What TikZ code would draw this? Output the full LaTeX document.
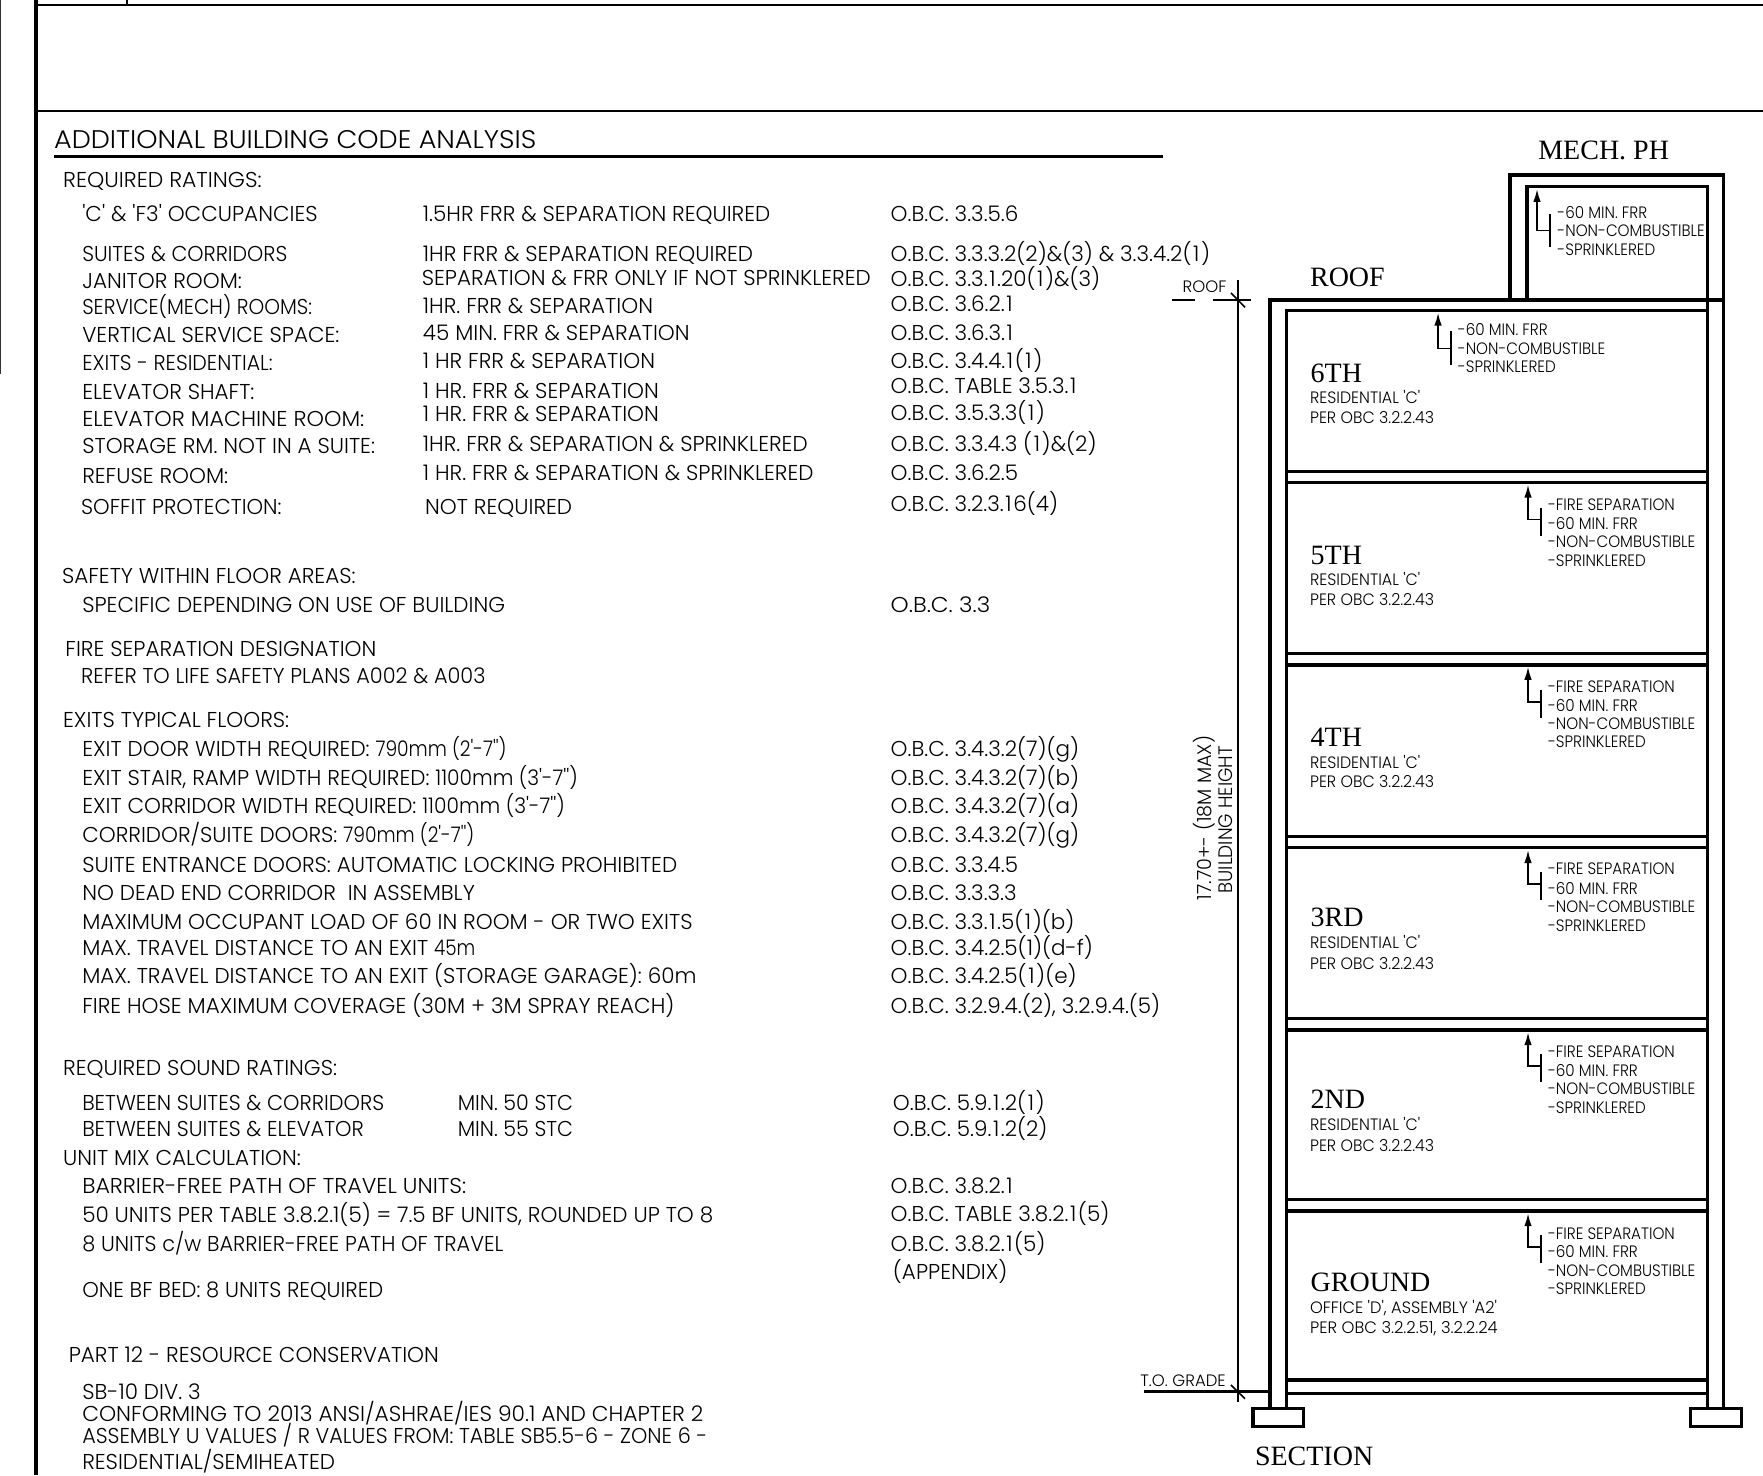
\documentclass[tikz,border=0pt]{standalone}
\usepackage{fontspec}
\usetikzlibrary{arrows.meta}
\newfontfamily\gothicA{Poppins Light}[FakeStretch=1.0]
\newfontfamily\gothicB{Poppins Light}[FakeStretch=0.92]
\newfontfamily\gothicC{Poppins Light}[FakeStretch=0.96]
\newfontfamily\gothicT{Poppins Light}[FakeStretch=1.06]
\newfontfamily\timesf{Liberation Serif}
\newcount\tcount
\newcommand{\TT}[4]{\global\advance\tcount by 1 \node[#1] (t\the\tcount) at (#2,#3) {#4};}
\newcommand{\MM}[3]{\TT{main}{#1}{#2}{#3}}
\newcommand{\SM}[3]{\TT{small}{#1}{#2}{#3}}
\newcommand{\FL}[3]{\TT{floorsub}{#1}{#2}{#3}}
\newcommand{\HD}[3]{\TT{head}{#1}{#2}{#3}}
\newcommand{\SX}[2]{\scalebox{#1}[1]{#2}}
\newcommand{\1}{\kern1.6pt\relax 1\kern1.6pt\relax}
\newcommand{\Leader}[5]{% tipx, tipy, kneeY, barTop, barBot
  \draw[leader,-{Latex[length=13pt,width=7.5pt]}] (#1+11.5,#3) -- (#1,#3) -- (#1,#2);
  \draw[leader] (#1+11.5,#4) -- (#1+11.5,#5);}
\tikzset{
 main/.style={anchor=west,inner sep=0,font=\gothicA\fontsize{21.5}{24}\selectfont,text height=15pt,text depth=0pt},
 small/.style={anchor=west,inner sep=0,font=\gothicB\fontsize{16.5}{18}\selectfont,text height=11.6pt,text depth=0pt},
 floorsub/.style={anchor=west,inner sep=0,font=\gothicC\fontsize{16.5}{18}\selectfont,text height=11.6pt,text depth=0pt},
 dimtext/.style={anchor=west,inner sep=0,font=\gothicA\fontsize{16.5}{18}\selectfont,text height=11.6pt,text depth=0pt},
 rotdim/.style={anchor=center,rotate=90,inner sep=0,font=\gothicB\fontsize{19.5}{22}\selectfont,text height=14pt,text depth=0pt},
 head/.style={anchor=west,inner sep=0,font=\timesf\fontsize{28}{30}\selectfont,text height=18.5pt,text depth=0pt},
 title/.style={anchor=west,inner sep=0,font=\gothicT\fontsize{25.5}{28}\selectfont,text height=18pt,text depth=0pt},
 wall/.style={line width=3.3pt,line cap=rect,line join=miter},
 thinwall/.style={line width=3pt,line cap=rect},
 leader/.style={line width=1.8pt},
 dim/.style={line width=1.5pt},
 frame/.style={line width=2.2pt},
}
\begin{document}
\begin{tikzpicture}[x=1.12436pt,y=-1.12436pt]
\useasboundingbox (0,0) rectangle (1568,1312);
% sheet frame
\draw[line width=4pt] (32,0) -- (32,1312);
\draw[line width=2pt,black!80] (0,0) -- (0,333);
\draw[frame] (32,4.5) -- (1568,4.5);
\draw[line width=1.5pt] (113,0) -- (113,4.5);
\draw[line width=1.8pt] (32,99) -- (1568,99);
% title
\TT{title}{48}{124}{ADDITIONAL BUILDING CODE ANALYSIS}
\draw[line width=3pt] (48,139) -- (1034,139);
% ratings
\MM{56}{160}{\SX{1.02}{REQUIRED RATINGS:}}
\MM{73}{190}{'C' \& 'F3' OCCUPANCIES}
\MM{376}{190}{1.5HR FRR \& SEPARATION REQUIRED}
\MM{792}{190}{O.B.C. 3.3.5.6}
\MM{73}{226}{\SX{.96}{SUITES \& CORRIDORS}}
\MM{376}{226}{1HR FRR \& SEPARATION REQUIRED}
\MM{792}{226}{O.B.C. 3.3.3.2(2)\&(3) \& 3.3.4.2(\1)}
\MM{73}{250}{JANITOR ROOM:}
\MM{375}{247}{SEPARATION \& FRR ONLY IF NOT SPRINKLERED}
\MM{792}{248}{O.B.C. 3.3.\1.20(\1)\&(3)}
\MM{73}{273}{\SX{.93}{SERVICE(MECH) ROOMS:}}
\MM{376}{272}{1HR. FRR \& SEPARATION}
\MM{792}{270}{O.B.C. 3.6.2.\1}
\MM{73}{298}{VERTICAL SERVICE SPACE:}
\MM{376}{296}{45 MIN. FRR \& SEPARATION}
\MM{792}{296}{O.B.C. 3.6.3.\1}
\MM{73}{323}{\SX{.955}{EXITS - RESIDENTIAL:}}
\MM{376}{321}{1 HR FRR \& SEPARATION}
\MM{792}{321}{O.B.C. 3.4.4.\1(\1)}
\MM{73}{349}{ELEVATOR SHAFT:}
\MM{376}{348}{1 HR. FRR \& SEPARATION}
\MM{792}{343}{O.B.C. TABLE 3.5.3.\1}
\MM{73}{373}{\SX{1.03}{ELEVATOR MACHINE ROOM:}}
\MM{376}{368}{1 HR. FRR \& SEPARATION}
\MM{792}{367}{O.B.C. 3.5.3.3(\1)}
\MM{73}{397}{STORAGE RM. NOT IN A SUITE:}
\MM{376}{395}{1HR. FRR \& SEPARATION \& SPRINKLERED}
\MM{792}{395}{O.B.C. 3.3.4.3 (\1)\&(2)}
\MM{73}{423}{REFUSE ROOM:}
\MM{376}{421}{1 HR. FRR \& SEPARATION \& SPRINKLERED}
\MM{792}{421}{O.B.C. 3.6.2.5}
\MM{72}{451}{\SX{.98}{SOFFIT PROTECTION:}}
\MM{378}{451}{NOT REQUIRED}
\MM{792}{448}{O.B.C. 3.2.3.\1{}6(4)}
% safety
\MM{55}{512}{SAFETY WITHIN FLOOR AREAS:}
\MM{73}{538}{SPECIFIC DEPENDING ON USE OF BUILDING}
\MM{792}{538}{\SX{1.07}{O.B.C. 3.3}}
\MM{58}{577}{FIRE SEPARATION DESIGNATION}
\MM{72}{601}{\SX{.97}{REFER TO LIFE SAFETY PLANS A002 \& A003}}
% exits
\MM{56}{640}{EXITS TYPICAL FLOORS:}
\MM{73}{666}{EXIT DOOR WIDTH REQUIRED: \SX{.87}{790mm (2'-7'')}}
\MM{792}{666}{O.B.C. 3.4.3.2(7)(g)}
\MM{73}{692}{EXIT STAIR, RAMP WIDTH REQUIRED: \SX{.94}{1100mm (3'-7'')}}
\MM{792}{692}{O.B.C. 3.4.3.2(7)(b)}
\MM{73}{717}{EXIT CORRIDOR WIDTH REQUIRED: \SX{.94}{1100mm (3'-7'')}}
\MM{792}{717}{O.B.C. 3.4.3.2(7)(a)}
\MM{73}{743}{CORRIDOR/SUITE DOORS: \SX{.87}{790mm (2'-7'')}}
\MM{792}{743}{O.B.C. 3.4.3.2(7)(g)}
\MM{73}{769}{SUITE ENTRANCE DOORS: AUTOMATIC LOCKING PROHIBITED}
\MM{792}{769}{O.B.C. 3.3.4.5}
\MM{73}{794}{NO DEAD END CORRIDOR\ \ IN ASSEMBLY}
\MM{792}{794}{O.B.C. 3.3.3.3}
\MM{73}{820}{MAXIMUM OCCUPANT LOAD OF 60 IN ROOM - OR TWO EXITS}
\MM{792}{820}{O.B.C. 3.3.\1.5(\1)(b)}
\MM{73}{843}{MAX. TRAVEL DISTANCE TO AN EXIT \SX{.85}{45m}}
\MM{792}{843}{O.B.C. 3.4.2.5(1)(d-f)}
\MM{73}{868}{MAX. TRAVEL DISTANCE TO AN EXIT (STORAGE GARAGE): 60m}
\MM{792}{868}{O.B.C. 3.4.2.5(\1)(e)}
\MM{73}{895}{FIRE HOSE MAXIMUM COVERAGE (30M + 3M SPRAY REACH)}
\MM{792}{895}{O.B.C. 3.2.9.4.(2), 3.2.9.4.(5)}
% sound
\MM{56}{950}{REQUIRED SOUND RATINGS:}
\MM{73}{981}{\SX{.97}{BETWEEN SUITES \& CORRIDORS}}
\MM{407}{981}{\SX{.96}{MIN. 50 STC}}
\MM{794}{981}{O.B.C. 5.9.\1.2(\1)}
\MM{73}{1004}{\SX{.97}{BETWEEN SUITES \& ELEVATOR}}
\MM{407}{1004}{\SX{.96}{MIN. 55 STC}}
\MM{794}{1004}{O.B.C. 5.9.\1.2(2)}
\MM{56}{1030}{UNIT MIX CALCULATION:}
\MM{73}{1055}{\SX{1.03}{BARRIER-FREE PATH OF TRAVEL UNITS:}}
\MM{792}{1055}{O.B.C. 3.8.2.\1}
\MM{73}{1081}{50 UNITS PER TABLE 3.8.2.1(5) = 7.5 BF UNITS, ROUNDED UP TO 8}
\MM{792}{1080}{O.B.C. TABLE 3.8.2.\1(5)}
\MM{73}{1106}{\SX{.97}{8 UNITS c/w BARRIER-FREE PATH OF TRAVEL}}
\MM{792}{1106}{O.B.C. 3.8.2.\1(5)}
\MM{794}{1131}{(APPENDIX)}
\MM{73}{1147}{\SX{.98}{ONE BF BED: 8 UNITS REQUIRED}}
\MM{61}{1205}{PART 12 - RESOURCE CONSERVATION}
\MM{73}{1238}{SB-10 DIV. 3}
\MM{73}{1258}{\SX{1.013}{CONFORMING TO 2013 ANSI/ASHRAE/IES 90.1 AND CHAPTER 2}}
\MM{73}{1277}{\SX{.965}{ASSEMBLY U VALUES / R VALUES FROM: TABLE SB5.5-6 - ZONE 6 -}}
\MM{73}{1300.5}{RESIDENTIAL/SEMIHEATED}
% section: walls
\draw[wall] (1343,266.8) -- (1343,155.6) -- (1533,155.6) -- (1533,266.8);
\draw[wall] (1358,266.8) -- (1358,166) -- (1518.8,166) -- (1518.8,276.3);
\draw[wall] (1129.6,1252.6) -- (1129.6,266.8) -- (1533,266.8) -- (1533,1252.6);
\draw[wall] (1144,1252.6) -- (1144,276.3) -- (1518.8,276.3) -- (1518.8,1252.6);
\draw[line width=4pt] (1129.6,1252.6) -- (1129.6,266.8);
\foreach \ya/\yb in {419.5/429.3,581.5/591.5,744/754,906/916,1067/1077}{
  \draw[wall] (1144,\ya) -- (1518.8,\ya);
  \draw[wall] (1144,\yb) -- (1518.8,\yb);
}
\draw[wall] (1144,1227.4) -- (1518.8,1227.4);
\draw[thinwall] (1144,1239) -- (1518.8,1239);
\draw[wall] (1114.5,1252.6) rectangle (1159.4,1268.9);
\draw[wall] (1503.4,1252.6) rectangle (1549,1268.9);
% grade and dimension
\draw[thinwall] (1018.6,1238) -- (1129.6,1238);
\draw[dim] (1100.9,249) -- (1100.9,1247);
\draw[dim] (1094.8,260.5) -- (1107.3,273.3);
\draw[dim] (1094.8,1231.8) -- (1107.3,1244);
\draw[dim] (1042.7,266.8) -- (1062.4,266.8);
\draw[dim] (1078.6,266.8) -- (1112.7,266.8);
\TT{dimtext}{1051.7}{255}{ROOF}
\TT{dimtext}{1014}{1228}{T.O. GRADE}
\TT{rotdim}{1071}{727.5}{\SX{1.07}{17.70+- (18M MAX)}}
\TT{rotdim}{1090}{729}{\SX{1.03}{BUILDING HEIGHT}}
% labels
\HD{1368}{134}{MECH. PH}
\HD{1165}{247}{ROOF}
\HD{1165.5}{332}{6TH}
\FL{1165}{354}{RESIDENTIAL 'C'}
\FL{1165}{371.5}{PER OBC 3.2.2.43}
\HD{1165.5}{494}{5TH}
\FL{1165}{516}{RESIDENTIAL 'C'}
\FL{1165}{533}{PER OBC 3.2.2.43}
\HD{1165.5}{656}{4TH}
\FL{1165}{678}{RESIDENTIAL 'C'}
\FL{1165}{695}{PER OBC 3.2.2.43}
\HD{1165.5}{816}{3RD}
\FL{1165}{838}{RESIDENTIAL 'C'}
\FL{1165}{857}{PER OBC 3.2.2.43}
\HD{1165.5}{978}{2ND}
\FL{1165}{1000}{RESIDENTIAL 'C'}
\FL{1165}{1019}{PER OBC 3.2.2.43}
\HD{1165.5}{1140}{GROUND}
\FL{1165}{1163}{\SX{1.025}{OFFICE 'D', ASSEMBLY 'A2'}}
\FL{1165}{1181}{\SX{1.035}{PER OBC 3.2.2.51, 3.2.2.24}}
\HD{1116}{1295}{SECTION}
% leaders
\Leader{1367}{168}{205}{190}{220}
\SM{1385}{189}{-60 MIN. FRR}
\SM{1385}{205}{-NON-COMBUSTIBLE}
\SM{1385}{222}{-SPRINKLERED}
\Leader{1279}{278}{310}{294}{325}
\SM{1296.5}{293}{-60 MIN. FRR}
\SM{1296.5}{310}{-NON-COMBUSTIBLE}
\SM{1296.5}{326}{-SPRINKLERED}
\Leader{1359}{431}{462}{451.5}{476.4}
\SM{1376.6}{449}{-FIRE SEPARATION}
\SM{1376.6}{465.5}{-60 MIN. FRR}
\SM{1376.6}{482}{-NON-COMBUSTIBLE}
\SM{1376.6}{499}{-SPRINKLERED}
\Leader{1359}{593}{624}{613.5}{638.4}
\SM{1376.6}{611}{-FIRE SEPARATION}
\SM{1376.6}{628}{-60 MIN. FRR}
\SM{1376.6}{644}{-NON-COMBUSTIBLE}
\SM{1376.6}{660}{-SPRINKLERED}
\Leader{1359}{756}{786}{775.5}{800.4}
\SM{1376.6}{773}{-FIRE SEPARATION}
\SM{1376.6}{790}{-60 MIN. FRR}
\SM{1376.6}{806}{-NON-COMBUSTIBLE}
\SM{1376.6}{823}{-SPRINKLERED}
\Leader{1359}{918}{948}{937.5}{962.4}
\SM{1376.6}{935}{-FIRE SEPARATION}
\SM{1376.6}{952}{-60 MIN. FRR}
\SM{1376.6}{968}{-NON-COMBUSTIBLE}
\SM{1376.6}{985}{-SPRINKLERED}
\Leader{1359}{1079}{1109}{1098.5}{1123.4}
\SM{1376.6}{1097}{-FIRE SEPARATION}
\SM{1376.6}{1113}{-60 MIN. FRR}
\SM{1376.6}{1130}{-NON-COMBUSTIBLE}
\SM{1376.6}{1146}{-SPRINKLERED}
\end{tikzpicture}
\end{document}
